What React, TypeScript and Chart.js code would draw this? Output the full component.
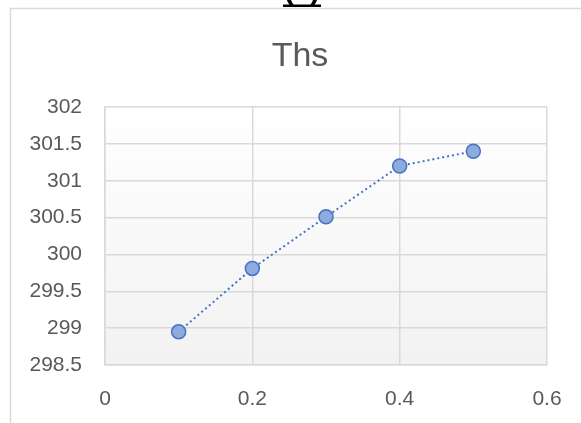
import React, { useEffect, useRef } from "react";
import { Chart, registerables } from "chart.js";

Chart.register(...registerables);

const xValues = [0.1, 0.2, 0.3, 0.4, 0.5];
const thsValues = [298.95, 299.81, 300.51, 301.2, 301.4];
const chartTitle = "Ths";
const panelLabel = "(c)";

const FONT = "'Liberation Sans', Arial, sans-serif";

const decorPlugin = {
  id: "decor",
  beforeDraw(chart: any) {
    const { ctx, chartArea, width, height } = chart;
    ctx.save();
    ctx.fillStyle = "#ffffff";
    ctx.fillRect(0, 0, width, height);
    // outer border
    ctx.strokeStyle = "#d9d9d9";
    ctx.lineWidth = 1.5;
    ctx.beginPath();
    ctx.moveTo(10.5, height);
    ctx.lineTo(10.5, 8.5);
    ctx.lineTo(width, 8.5);
    ctx.stroke();
    // plot background gradient
    const g = ctx.createLinearGradient(0, chartArea.top, 0, chartArea.bottom);
    g.addColorStop(0, "#ffffff");
    g.addColorStop(1, "#f2f2f2");
    ctx.fillStyle = g;
    ctx.fillRect(chartArea.left, chartArea.top, chartArea.right - chartArea.left, chartArea.bottom - chartArea.top);
    // panel label (cut off at top)
    ctx.fillStyle = "#000000";
    ctx.font = `bold 30px ${FONT}`;
    ctx.textAlign = "center";
    ctx.textBaseline = "alphabetic";
    ctx.fillText(panelLabel, 302, -1);
    ctx.fillRect(283, 4.5, 38, 2.5);
    // title
    ctx.fillStyle = "#595959";
    ctx.font = `34px ${FONT}`;
    ctx.fillText(chartTitle, 300, 66);
    ctx.restore();
  },
};

const fmt = (v: any) => String(parseFloat(Number(v).toFixed(3)));

export default function App() {
  const ref = useRef<HTMLCanvasElement>(null);
  useEffect(() => {
    if (!ref.current) return;
    const chart = new Chart(ref.current, {
      type: "scatter",
      data: {
        datasets: [
          {
            label: chartTitle,
            data: xValues.map((x, i) => ({ x, y: thsValues[i] })),
            showLine: true,
            borderColor: "#4472c4",
            borderWidth: 2,
            borderDash: [2, 3],
            pointRadius: 7,
            pointHoverRadius: 7,
            pointBackgroundColor: "#8faadc",
            pointBorderColor: "#4472c4",
            pointBorderWidth: 1.5,
          },
        ],
      },
      options: {
        animation: false,
        responsive: false,
        maintainAspectRatio: false,
        layout: { padding: { left: 0, right: 34, top: 107, bottom: 0 } },
        plugins: {
          legend: { display: false },
          title: { display: false },
          tooltip: { enabled: false },
        },
        scales: {
          x: {
            type: "linear",
            min: 0,
            max: 0.6,
            afterFit: (s: any) => {
              s.height = 58;
              s.paddingLeft = 0;
              s.paddingRight = 0;
            },
            ticks: {
              stepSize: 0.2,
              padding: 22,
              color: "#595959",
              font: { family: FONT, size: 21 },
              callback: (v: any) => fmt(v),
            },
            grid: { color: "#d9d9d9", lineWidth: 1.5, drawTicks: false },
            border: { color: "#d9d9d9", width: 1.5 },
          },
          y: {
            type: "linear",
            min: 298.5,
            max: 302,
            afterFit: (s: any) => {
              s.width = 105;
              s.paddingTop = 0;
              s.paddingBottom = 0;
            },
            ticks: {
              stepSize: 0.5,
              padding: 23,
              color: "#595959",
              font: { family: FONT, size: 21 },
              callback: (v: any) => fmt(v),
            },
            grid: { color: "#d9d9d9", lineWidth: 1.5, drawTicks: false },
            border: { color: "#d9d9d9", width: 1.5 },
          },
        },
      },
      plugins: [decorPlugin],
    });
    return () => chart.destroy();
  }, []);
  return (
    <div style={{ position: "absolute", left: 0, top: 0, width: 581, height: 423, overflow: "hidden" }}>
      <canvas ref={ref} width={581} height={423} style={{ display: "block" }} />
    </div>
  );
}
